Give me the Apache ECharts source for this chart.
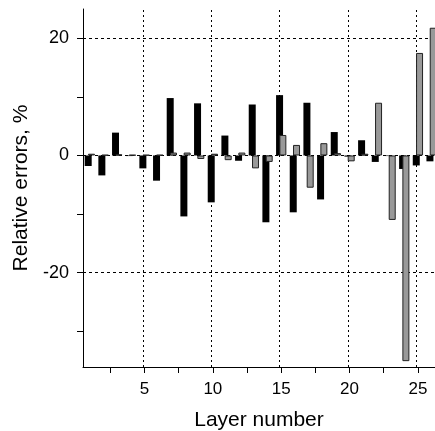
<!DOCTYPE html>
<html>
<head>
<meta charset="utf-8">
<script src="https://cdn.jsdelivr.net/npm/echarts@6/dist/echarts.min.js"></script>
<style>
html,body{margin:0;padding:0;background:#fff;}
#chart{width:435px;height:431px;}
</style>
</head>
<body>
<div id="chart"></div>
<script>
const layers = [1,2,3,4,5,6,7,8,9,10,11,12,13,14,15,16,17,18,19,20,21,22,23,24,25,26];
const seriesA = [-1.8,-3.4,3.9,-0.1,-2.2,-4.3,9.8,-10.4,8.9,-8.0,3.4,-0.9,8.7,-11.4,10.3,-9.7,9.0,-7.5,4.0,-0.2,2.6,-1.1,-0.1,-2.3,-1.7,-1.0];
const seriesB = [0.3,0.1,0.2,0.1,0.1,0.1,0.5,0.5,-0.6,0.3,-0.8,0.5,-2.2,-1.1,3.5,1.8,-5.5,2.1,0.4,-1.0,0.3,9.0,-11.0,-35.1,17.5,21.8];
const xTicks = [2.5,5,7.5,10,12.5,15,17.5,20,22.5,25];
const xLabels = [5,10,15,20,25];
const yTicks = [-30,-20,-10,0,10,20];
const yLabels = [-20,0,20];
const xGrid = [5,10,15,20,25];
const yGrid = [-20,0,20];

const font = "'Liberation Sans', Arial, Helvetica, sans-serif";
const chart = echarts.init(document.getElementById('chart'), null, {renderer:'canvas'});
const gridLines = xGrid.map(v => ({xAxis: v, lineStyle: {type: [2, 3]}}))
  .concat(yGrid.map(v => ({yAxis: v, lineStyle: {type: [3, 3]}})));
chart.setOption({
  animation: false,
  grid: {left: 83, right: 0, top: 9, bottom: 64, containLabel: false, outerBoundsMode: 'none'},
  xAxis: {
    type: 'value', min: 0.5, max: 26.25,
    name: 'Layer number', nameLocation: 'middle', nameGap: 43,
    nameTextStyle: {fontSize: 21, color: '#000', fontFamily: font},
    axisLine: {show: true, onZero: false, lineStyle: {color: '#000', width: 1}},
    axisTick: {show: true, inside: false, length: 6, customValues: xTicks, lineStyle: {color: '#000'}},
    axisLabel: {show: true, customValues: xLabels, margin: 14, fontSize: 17, color: '#000', fontFamily: font},
    splitLine: {show: false}
  },
  yAxis: {
    type: 'value', min: -36.1, max: 25,
    name: 'Relative errors, %', nameLocation: 'middle', nameGap: 50,
    nameTextStyle: {fontSize: 21, color: '#000', fontFamily: font},
    axisLine: {show: true, onZero: false, lineStyle: {color: '#000', width: 1}},
    axisTick: {show: true, inside: false, length: 6, customValues: yTicks, lineStyle: {color: '#000'}},
    axisLabel: {show: true, customValues: yLabels, margin: 14, fontSize: 18, color: '#000', fontFamily: font},
    splitLine: {show: false}
  },
  series: [
    {
      type: 'bar', name: 'A', z: 10,
      data: layers.map((l, i) => [l, seriesA[i]]),
      barWidth: 7, barGap: '-53%',
      itemStyle: {color: '#000'},
      markLine: {
        silent: true, symbol: 'none', label: {show: false},
        lineStyle: {color: '#000', width: 1},
        data: gridLines
      }
    },
    {
      type: 'bar', name: 'B', z: 11,
      data: layers.map((l, i) => [l, seriesB[i]]),
      barWidth: 7, barGap: '-53%',
      itemStyle: {color: '#999999', borderColor: '#222', borderWidth: 1}
    }
  ]
});
</script>
</body>
</html>
